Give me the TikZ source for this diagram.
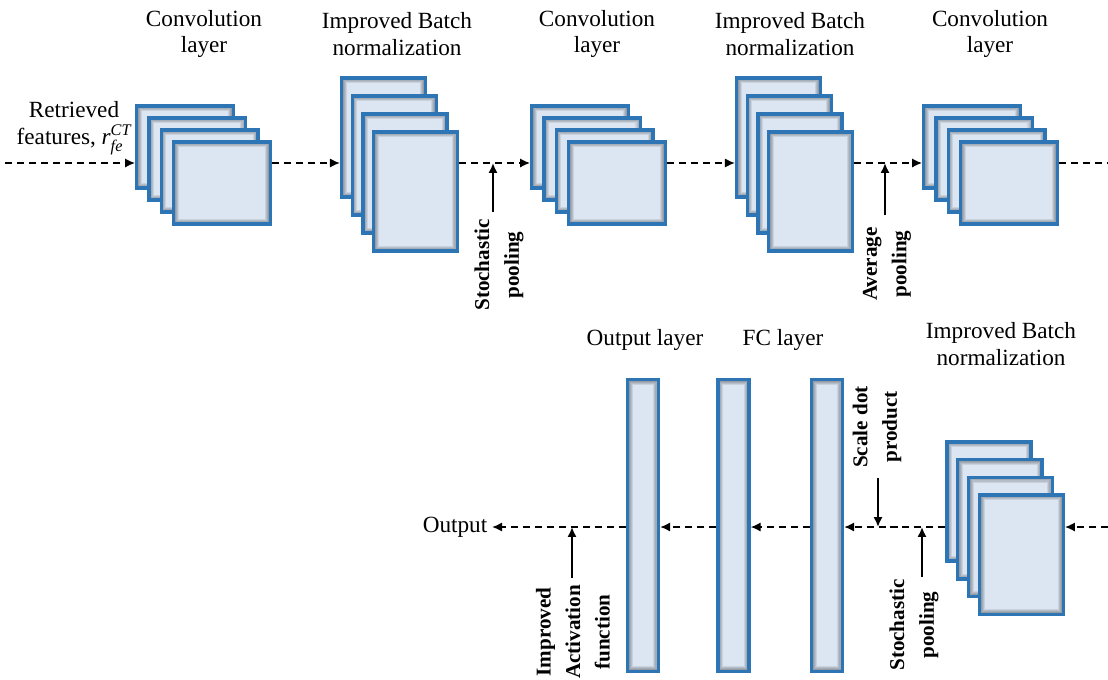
\documentclass[tikz,border=0pt]{standalone}
\usepackage{amsmath}
\usepackage{fontspec}
\setmainfont{Liberation Serif}
\usetikzlibrary{arrows.meta,calc,positioning}

\definecolor{frameblue}{HTML}{2E75B6}
\definecolor{framefill}{HTML}{DCE6F2}

\tikzset{
  frame/.style={draw=frameblue, line width=2.4pt, fill=framefill, path picture={
      \foreach \w in {1,...,5}
        \draw[black, opacity=0.09, line width=\w*1.5pt] (path picture bounding box.south west) rectangle (path picture bounding box.north east);}},
  convframe/.style={frame, minimum width=2.42cm, minimum height=2.05cm},
  bnframe/.style={frame, minimum width=2.1cm, minimum height=2.98cm},
  bar/.style={frame, minimum width=0.78cm, minimum height=7.3cm},
  title/.style={align=center, font=\fontsize{16.5}{19}\selectfont},
  oplabel/.style={rotate=90, align=center, font=\bfseries\fontsize{15}{21}\selectfont},
  flow/.style={dash pattern=on 5pt off 3.5pt, line width=0.9pt},
  pool/.style={line width=1.6pt}
}

\begin{document}
\begin{tikzpicture}[x=0.025cm, y=-0.025cm, >={Latex[length=7pt,width=6.5pt]}]
\useasboundingbox (0,0) rectangle (1108,679);

% titles
\node[title] (tc1) at (204,34) {Convolution\\layer};
\node[title] (tb1) at (397,34) {Improved Batch\\normalization};
\node[title] (tc2) at (597,34) {Convolution\\layer};
\node[title] (tb2) at (790,34) {Improved Batch\\normalization};
\node[title] (tc3) at (990,34) {Convolution\\layer};
\node[title] (tout) at (645,340) {Output layer};
\node[title] (tfc) at (783,340) {FC layer};
\node[title] (tb3) at (1001,344) {Improved Batch\\normalization};
\node[title] (rf) at (74,128) {Retrieved\\features, $\textit{r}_{\textit{fe}}^{\textit{CT}}$};
\node[title] (output) at (455,527) {Output};

% stacks
\foreach \i in {0,...,3}
  \node[convframe] (c1_\i) at ($(185,147)+\i*(12.3,12)$) {};
\foreach \i in {0,...,3}
  \node[bnframe] (b1_\i) at ($(383.5,137.5)+\i*(10.7,18)$) {};
\foreach \i in {0,...,3}
  \node[convframe] (c2_\i) at ($(580,147)+\i*(12.3,12)$) {};
\foreach \i in {0,...,3}
  \node[bnframe] (b2_\i) at ($(778.5,137.5)+\i*(10.7,18)$) {};
\foreach \i in {0,...,3}
  \node[convframe] (c3_\i) at ($(972,147)+\i*(12.3,12)$) {};
\foreach \i in {0,...,3}
  \node[bnframe] (b3_\i) at ($(989,501.5)+\i*(10.8,17.7)$) {};

% bars
\node[bar] (out) at (643,525.5) {};
\node[bar] (fc2) at (733.5,525.5) {};
\node[bar] (fc1) at (827,525.5) {};

% top flow
\coordinate (in) at (5,163);
\coordinate (end) at (1108,163);
\draw[flow,->] (in) -- (c1_0.west |- in);
\draw[flow,->] (c1_3.east |- in) -- (b1_0.west |- in);
\draw[flow,->] (b1_3.east |- in) -- (c2_0.west |- in);
\draw[flow,->] (c2_3.east |- in) -- (b2_0.west |- in);
\draw[flow,->] (b2_3.east |- in) -- (c3_0.west |- in);
\draw[flow] (c3_3.east |- in) -- (end);

% bottom flow
\coordinate (inb) at (1108,527);
\draw[flow,->] (inb) -- (b3_3.east |- inb);
\draw[flow,->] (b3_0.west |- inb) -- (fc1.east |- inb);
\draw[flow,->] (fc1.west |- inb) -- (fc2.east |- inb);
\draw[flow,->] (fc2.west |- inb) -- (out.east |- inb);
\draw[flow,->] (out.west |- inb) -- (output.east |- inb);

% operations
\node[oplabel] (sp1) at (499,265) {Stochastic\\pooling};
\coordinate (sp1t) at (493,212);
\draw[pool,->] (sp1t) -- (sp1t |- in);

\node[oplabel] (ap) at (887,264) {Average\\pooling};
\coordinate (apt) at (885,215);
\draw[pool,->] (apt) -- (apt |- in);

\node[oplabel] (sd) at (877,427) {Scale dot\\product};
\coordinate (sdt) at (878,478);
\draw[pool,->] (sdt) -- (sdt |- inb);

\node[oplabel] (sp2) at (914,625) {Stochastic\\pooling};
\coordinate (sp2t) at (922,577);
\draw[pool,->] (sp2t) -- (sp2t |- inb);

\node[oplabel] (act) at (573,632) {Improved\\Activation\\function};
\coordinate (actt) at (572,578);
\draw[pool,->] (actt) -- (actt |- inb);
\end{tikzpicture}
\end{document}
